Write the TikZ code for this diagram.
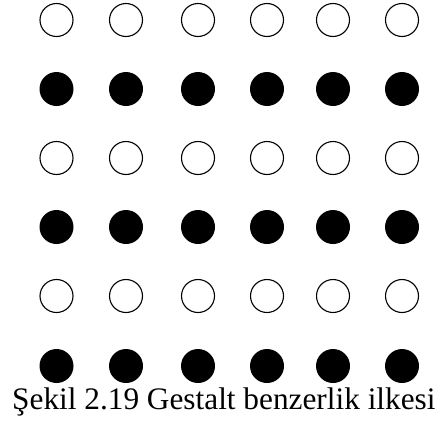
\documentclass[tikz,border=0pt]{standalone}
\usepackage{fontspec}
\setmainfont{Liberation Serif}
\begin{document}
\begin{tikzpicture}[x=1pt,y=1pt,
  opendot/.style={draw=black,line width=1.1pt},
  fulldot/.style={fill=black},
  caption/.style={anchor=base west,inner sep=0pt,font=\fontsize{31.3}{36}\selectfont}]
\fill[white] (0,0) rectangle (443,-423);
\foreach \yy in {20,158,296}{
  \foreach \xx in {56.5,126,198,267,333,402}{
    \draw[opendot] (\xx,-\yy) circle[radius=16.5];
  }
}
\foreach \yy in {89,227,366}{
  \foreach \xx in {56.5,126,198,267,333,402}{
    \fill[fulldot] (\xx,-\yy) circle[radius=17];
  }
}
\node[caption] (cap) at (12,-409) {Şekil 2.19 Gestalt benzerlik ilkesi};
\end{tikzpicture}
\end{document}
